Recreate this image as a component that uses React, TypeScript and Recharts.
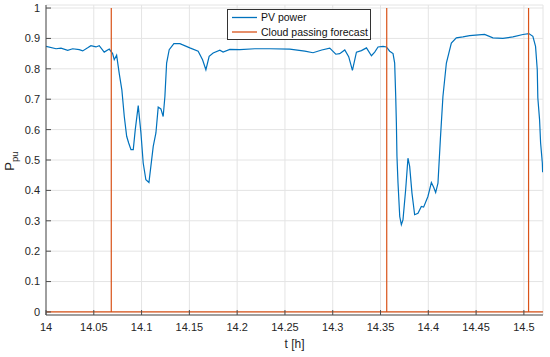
import React from 'react';
import { LineChart, Line, XAxis, YAxis, CartesianGrid, Legend } from 'recharts';

const pvTime = [
  14.0, 14.0105, 14.0157, 14.0227, 14.0279, 14.0348, 14.0384, 14.0436, 14.047, 14.0523,
  14.0557, 14.0609, 14.0662, 14.0697, 14.0714, 14.0739, 14.0766, 14.0794, 14.0819, 14.0844,
  14.0865, 14.0889, 14.0913, 14.0934, 14.0965, 14.0993, 14.1017, 14.1045, 14.1077, 14.1122,
  14.115, 14.1174, 14.1202, 14.1226, 14.1244, 14.1262, 14.1289, 14.1338, 14.1401, 14.1505,
  14.1592, 14.1638, 14.1673, 14.1707, 14.1749, 14.1819, 14.1853, 14.1923, 14.2028, 14.2185,
  14.2342, 14.2551, 14.2708, 14.2794, 14.2885, 14.2969, 14.3032, 14.3073, 14.3126, 14.3167,
  14.3206, 14.3248, 14.33, 14.3353, 14.3405, 14.3439, 14.3474, 14.3526, 14.3562, 14.3596,
  14.3631, 14.3648, 14.3659, 14.3666, 14.3672, 14.3683, 14.3701, 14.3718, 14.3735, 14.3763,
  14.3787, 14.3805, 14.3829, 14.3857, 14.3892, 14.3927, 14.3951, 14.3996, 14.4032, 14.4056,
  14.4077, 14.4101, 14.4126, 14.4153, 14.4189, 14.4241, 14.4293, 14.4362, 14.4432, 14.4589,
  14.4676, 14.478, 14.4885, 14.499, 14.5052, 14.5094, 14.5122, 14.514, 14.5146, 14.5164,
  14.5175, 14.5193, 14.5196,
];
const pvPower = [
  0.874, 0.866, 0.868, 0.861, 0.866, 0.863, 0.859, 0.869, 0.876, 0.872,
  0.876, 0.855, 0.865, 0.85, 0.83, 0.845, 0.785, 0.73, 0.643, 0.578,
  0.556, 0.534, 0.534, 0.6, 0.679, 0.59, 0.49, 0.435, 0.426, 0.545,
  0.589, 0.674, 0.668, 0.643, 0.709, 0.819, 0.863, 0.883, 0.883, 0.869,
  0.858, 0.83, 0.797, 0.841, 0.852, 0.861, 0.855, 0.864, 0.863, 0.866,
  0.866, 0.865, 0.858, 0.853, 0.862, 0.868, 0.848, 0.85, 0.862, 0.84,
  0.795, 0.855, 0.86, 0.869, 0.843, 0.855, 0.872, 0.874, 0.872, 0.858,
  0.85, 0.819, 0.709, 0.62, 0.512, 0.424, 0.314, 0.287, 0.303, 0.402,
  0.506, 0.479, 0.391, 0.32, 0.325, 0.347, 0.345, 0.38, 0.426, 0.41,
  0.393, 0.424, 0.567, 0.709, 0.819, 0.885, 0.902, 0.905, 0.909, 0.913,
  0.902, 0.9, 0.905, 0.913, 0.916, 0.907, 0.874, 0.797, 0.704, 0.633,
  0.556, 0.49, 0.46,
];

const forecastTime = [14.0, 14.0683, 14.0683, 14.0683, 14.3565, 14.3565, 14.3565, 14.5049, 14.5049, 14.5049, 14.52];
const forecastValue = [0, 0, 1, 0, 0, 1, 0, 0, 1, 0, 0];

const xTicks = [14, 14.05, 14.1, 14.15, 14.2, 14.25, 14.3, 14.35, 14.4, 14.45, 14.5];
const yTicks = [0, 0.1, 0.2, 0.3, 0.4, 0.5, 0.6, 0.7, 0.8, 0.9, 1];

const seriesNames = ['PV power', 'Cloud passing forecast'];
const BLUE = '#0072BD';
const ORANGE = '#D95319';
const AXIS = '#4d4d4d';
const FONT = '"Liberation Sans", Arial, Helvetica, sans-serif';

const pvData = pvTime.map((t, i) => ({ t, p: pvPower[i] }));
const forecastData = forecastTime.map((t, i) => ({ t, f: forecastValue[i] }));

const renderLegend = () => (
  <svg width={144} height={31} style={{ display: 'block' }}>
    <rect x={0.5} y={0.5} width={143} height={30} fill="#fff" stroke="#333" strokeWidth={1} />
    <line x1={5} x2={30} y1={8.5} y2={8.5} stroke={BLUE} strokeWidth={1.3} />
    <text x={34} y={12.3} fontSize={10.5} fontFamily={FONT} fill="#111">{seriesNames[0]}</text>
    <line x1={5} x2={30} y1={23} y2={23} stroke={ORANGE} strokeWidth={1.3} />
    <text x={34} y={26.8} fontSize={10.5} fontFamily={FONT} fill="#111">{seriesNames[1]}</text>
  </svg>
);

const YLabel = () => {
  const cx = 14;
  const cy = 161;
  return (
    <text
      x={cx}
      y={cy}
      transform={`rotate(-90, ${cx}, ${cy})`}
      textAnchor="middle"
      fontFamily={FONT}
      fill="#262626"
      fontSize={13}
    >
      <tspan>P</tspan>
      <tspan dy={3.5} fontSize={9.5}>pu</tspan>
    </text>
  );
};

const emptyTick = () => <g />;

export default function App() {
  return (
    <div style={{ position: 'absolute', left: 0, top: 0, background: '#fff' }}>
      <LineChart width={550} height={357} margin={{ top: 5, right: 7, left: 0, bottom: 0 }}>
        <CartesianGrid stroke="#e4e4e4" strokeWidth={1} />
        <XAxis
          dataKey="t"
          type="number"
          domain={[14, 14.52]}
          ticks={xTicks}
          allowDataOverflow
          height={42}
          tickSize={-5}
          tickMargin={13}
          stroke={AXIS}
          tick={{ fill: '#262626', fontSize: 11, fontFamily: FONT }}
          label={{ value: 't [h]', position: 'insideBottom', offset: 9, fill: '#262626', fontSize: 12, fontFamily: FONT }}
        />
        <XAxis
          xAxisId="top"
          orientation="top"
          type="number"
          domain={[14, 14.52]}
          ticks={xTicks}
          allowDataOverflow
          height={0}
          tickSize={-5}
          stroke={AXIS}
          tick={emptyTick}
        />
        <YAxis
          type="number"
          domain={[-0.01, 1.01]}
          ticks={yTicks}
          allowDataOverflow
          width={46}
          tickSize={-5}
          tickMargin={11}
          stroke={AXIS}
          tick={{ fill: '#262626', fontSize: 11, fontFamily: FONT }}
          label={<YLabel />}
        />
        <YAxis
          yAxisId="right"
          orientation="right"
          type="number"
          domain={[-0.01, 1.01]}
          ticks={yTicks}
          allowDataOverflow
          width={0}
          tickSize={-5}
          stroke={AXIS}
          tick={emptyTick}
        />
        <Legend
          layout="vertical"
          align="center"
          verticalAlign="middle"
          content={renderLegend}
          wrapperStyle={{ position: 'absolute', left: 227, top: 9, width: 144, height: 31 }}
        />
        <Line
          data={pvData}
          dataKey="p"
          name={seriesNames[0]}
          stroke={BLUE}
          strokeWidth={1.2}
          dot={false}
          activeDot={false}
          isAnimationActive={false}
        />
        <Line
          data={forecastData}
          dataKey="f"
          name={seriesNames[1]}
          stroke={ORANGE}
          strokeWidth={1.2}
          dot={false}
          activeDot={false}
          isAnimationActive={false}
        />
      </LineChart>
    </div>
  );
}
